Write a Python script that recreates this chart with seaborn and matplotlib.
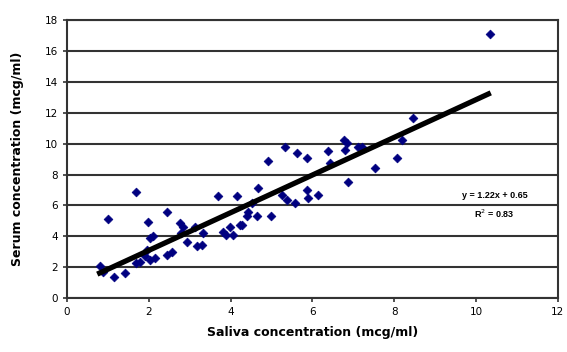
import matplotlib
matplotlib.use("Agg")
import matplotlib.pyplot as plt
import seaborn as sns
import numpy as np
import pandas as pd

# saliva (x) vs serum (y) concentrations
saliva = [0.82, 0.87, 1.01, 1.16, 1.42, 1.69, 1.70, 1.78, 1.90, 1.96, 1.99, 2.03, 2.03,
          2.11, 2.15, 2.44, 2.44, 2.56, 2.76, 2.80, 2.84, 2.93, 3.13, 3.17, 3.29, 3.33,
          3.70, 3.82, 3.90, 3.99, 4.07, 4.15, 4.23, 4.27, 4.39, 4.43, 4.52, 4.64, 4.68,
          4.92, 5.00, 5.25, 5.33, 5.37, 5.57, 5.62, 5.86, 5.86, 5.90, 6.14, 6.39, 6.43,
          6.76, 6.80, 6.84, 6.88, 7.12, 7.20, 7.53, 8.06, 8.18, 8.47, 10.33]
serum = [2.1, 1.7, 5.1, 1.4, 1.6, 6.9, 2.25, 2.35, 2.7, 3.1, 4.95, 3.9, 2.5,
         4.0, 2.6, 5.6, 2.8, 3.0, 4.85, 4.2, 4.6, 3.65, 4.6, 3.35, 3.45, 4.2,
         6.6, 4.3, 4.1, 4.6, 4.1, 6.6, 4.75, 4.75, 5.3, 5.6, 6.15, 5.3, 7.1,
         8.85, 5.3, 6.7, 9.8, 6.35, 6.15, 9.4, 9.1, 7.0, 6.5, 6.7, 9.5, 8.75,
         10.25, 9.6, 10.05, 7.55, 9.8, 9.8, 8.4, 9.1, 10.25, 11.65, 17.1]

slope = 1.22
intercept = 0.65
fit_range = [0.8, 10.3]

df = pd.DataFrame({"saliva": saliva, "serum": serum})

fig = plt.figure(figsize=(5.67, 3.52), dpi=100)
ax = fig.add_axes([0.118, 0.153, 0.866, 0.79])
plt.rcParams["font.family"] = ["Liberation Sans", "DejaVu Sans"]

sns.scatterplot(data=df, x="saliva", y="serum", marker="D", s=20, color="#000080",
                edgecolor="#000080", linewidth=0.5, ax=ax, zorder=3)

fx = np.array(fit_range)
ax.plot(fx, slope * fx + intercept, color="black", lw=3.8, zorder=4)

ax.set_xlim(0, 12)
ax.set_ylim(0, 18)
ax.set_xticks(range(0, 13, 2))
ax.set_yticks(range(0, 19, 2))
ax.grid(axis="y", color="#333333", lw=1.5, zorder=1)
ax.set_axisbelow(True)
for s in ax.spines.values():
    s.set_color("#333333")
    s.set_linewidth(1.5)
ax.tick_params(labelsize=7.5, length=3, width=1.2, color="#333333")

ax.set_xlabel("Saliva concentration (mcg/ml)", fontsize=9, fontweight="bold", labelpad=6)
ax.set_ylabel("Serum concentration (mcg/ml)", fontsize=9, fontweight="bold", labelpad=15)

ax.text(10.45, 6.65, "y = 1.22x + 0.65", fontsize=6.5, fontweight="bold", ha="center", va="center")
ax.text(10.45, 5.45, "R$^2$ = 0.83", fontsize=6.5, fontweight="bold", ha="center", va="center")

fig.savefig("out.png", dpi=100)
